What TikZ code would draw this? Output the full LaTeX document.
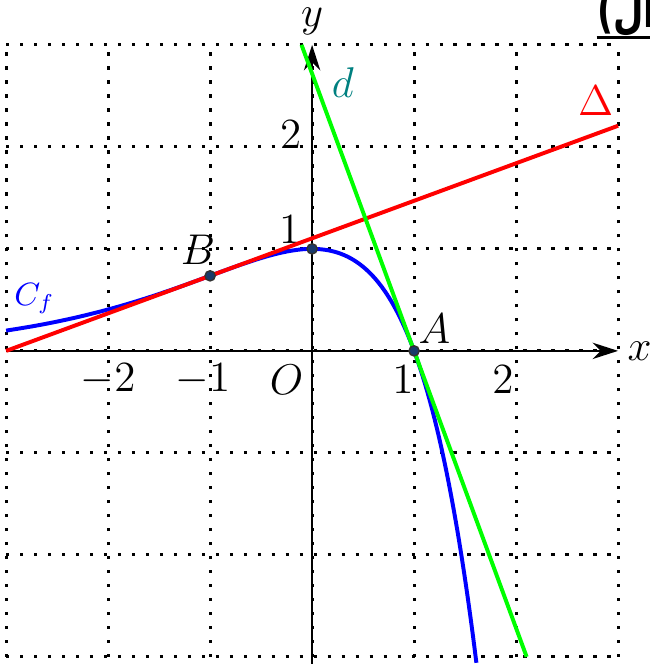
\documentclass[tikz,border=0pt]{standalone}
\usepackage{graphicx}
\usepackage{fontspec}
\newfontfamily\arabicfont[Script=Arabic]{DejaVu Sans}
\TeXXeTstate=1
\usetikzlibrary{arrows.meta}
\definecolor{ptblue}{RGB}{26,58,106}
\definecolor{dteal}{RGB}{0,128,128}
\definecolor{lgreen}{RGB}{0,255,0}

\begin{document}
\begin{tikzpicture}[font=\large, >={Stealth[length=2.5mm,width=1.6mm]},
  gridline/.style={line width=0.8pt, dash pattern=on 0.9pt off 3pt},
  axis/.style={->, line width=0.7pt},
  plotline/.style={line width=1.1pt},
  pt/.style={fill=ptblue, draw=black!80, line width=0.4pt}]
  \useasboundingbox (-3.06,-3.07) rectangle (3.31,3.44);

  %% Grid
  \foreach \k in {-3,...,3}{
    \draw[gridline] (\k,-3) -- (\k,3);
    \draw[gridline] (-3,\k) -- (3,\k);
  }

  %% Axes
  \draw[axis] (-3,0) -- (3,0) node[right,xshift=-1pt] (xlbl) {$x$};
  \draw[axis] (0,-3.1) -- (0,3) node[above,yshift=-1pt] (ylbl) {$y$};

  %% Tick labels
  \foreach \x/\y/\lbl/\nm in {-2/-0.28/-2/xa, -1.07/-0.28/-1/xb, -0.25/-0.28/O/orig,
                              0.89/-0.28/1/xc, 1.87/-0.28/2/xd,
                              -0.22/1.19/1/ya, -0.21/2.12/2/yb}{
    \node (\nm) at (\x,\y) {$\lbl$};
  }

  %% C_f : f(x) = (1-x) e^x
  \draw[blue, plotline, domain=-3:1.612, samples=150, smooth]
    plot (\x, {(1-\x)*exp(\x)});
  %% Tangent at B : y = (x+3)/e
  \draw[red, plotline] (-3,0) -- (3,{6/2.71828});
  %% Tangent at A : y = -e(x-1)
  \draw[lgreen, plotline] ({1-3/2.71828},3) -- ({1+3/2.71828},-3);

  %% Points
  \coordinate (A) at (1,0);
  \coordinate (B) at (-1,{2/2.71828});
  \coordinate (J) at (0,1);
  \foreach \p in {A,B,J}{
    \filldraw[pt] (\p) circle(0.05);
  }

  %% Labels
  \node (Albl) at (1.2,0.22) {$A$};
  \node (Blbl) at (-1.12,0.99) {$B$};
  \node[dteal] (dlbl) at (0.30,2.63) {$d$};
  \node[red] (Dlbl) at (2.78,2.45) {$\Delta$};
  \node[blue,font=\small] (Cflbl) at (-2.72,0.51) {$C_f$};

  %% Heading (cut by the page edge)
  \node[anchor=base west, inner sep=0pt, font={\arabicfont\bfseries\fontsize{14}{16}\selectfont}]
    (head) at (2.79,3.17) {\scalebox{0.7}[1]{)\beginR حل السؤال\endR}};
  \draw[line width=0.8pt] (head.west |- 0,3.07) -- (head.east |- 0,3.07);
\end{tikzpicture}
\end{document}
